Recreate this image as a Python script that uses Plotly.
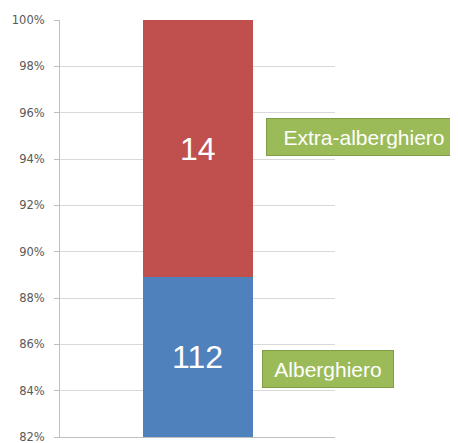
import plotly.graph_objects as go

categories = [""]
series_names = ["Alberghiero", "Extra-alberghiero"]
counts = [112, 14]
colors = ["#4F81BD", "#C0504D"]
tick_vals = [0.82, 0.84, 0.86, 0.88, 0.90, 0.92, 0.94, 0.96, 0.98, 1.00]
tick_text = ["82%", "84%", "86%", "88%", "90%", "92%", "94%", "96%", "98%", "100%"]
y_min, y_max = 0.82, 1.0

total = sum(counts)
shares = [c / total for c in counts]

fig = go.Figure()
for name, s, col in zip(series_names, shares, colors):
    fig.add_trace(go.Bar(x=categories, y=[s], name=name, marker=dict(color=col, line=dict(width=0)),
                         width=0.4, showlegend=False))

# value labels centred in visible part of each segment
annotations = []
cum = 0.0
for c, s in zip(counts, shares):
    lo = max(cum, y_min)
    hi = min(cum + s, y_max)
    annotations.append(dict(x=0, y=(lo + hi) / 2, xref="x", yref="y", text=str(c), showarrow=False,
                            font=dict(family="Liberation Sans, Arial", size=32, color="white")))
    cum += s

# green legend-like boxes
annotations.append(dict(x=0.749, y=0.9497, xref="paper", yref="y", xanchor="left", yanchor="middle",
                        text="Extra-alberghiero", showarrow=False, bgcolor="#9BBB59", bordercolor="#7F9E45",
                        borderwidth=1, borderpad=6.5, width=181, align="center",
                        font=dict(family="Liberation Sans, Arial", size=21, color="white")))
annotations.append(dict(x=0.735, y=0.8493, xref="paper", yref="y", xanchor="left", yanchor="middle",
                        text="Alberghiero", showarrow=False, bgcolor="#9BBB59", bordercolor="#7F9E45",
                        borderwidth=1, borderpad=6.5, width=117, align="center",
                        font=dict(family="Liberation Sans, Arial", size=21, color="white")))

fig.update_layout(
    width=450, height=435,
    margin=dict(l=52, r=123, t=12, b=6),
    barmode="stack",
    paper_bgcolor="white", plot_bgcolor="white",
    annotations=annotations,
    xaxis=dict(showticklabels=False, showgrid=False, showline=True, linecolor="#BFBFBF", linewidth=1,
               ticks="", zeroline=False, range=[-0.5, 0.5]),
    yaxis=dict(range=[y_min, y_max], tickvals=tick_vals, ticktext=tick_text, showgrid=True,
               gridcolor="#D9D9D9", gridwidth=1, showline=True, linecolor="#BFBFBF", linewidth=1,
               ticks="outside", ticklen=5, tickcolor="#BFBFBF", zeroline=False, ticklabelstandoff=7,
               automargin=False, ticklabeloverflow="allow",
               tickfont=dict(family="DejaVu Sans", size=11.5, color="#595959")),
)

fig.write_html("out.html")
